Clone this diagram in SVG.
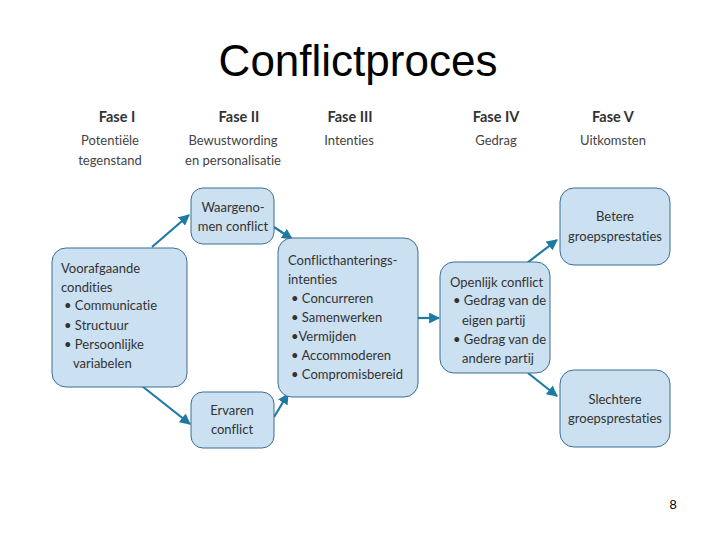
<svg xmlns="http://www.w3.org/2000/svg" width="720" height="540" viewBox="0 0 720 540">
<style>
.box{fill:#cbe0f0;stroke:#3a6f95;stroke-width:1}
.t{font-family:Lato,"Open Sans","Liberation Sans",sans-serif;font-size:13px;fill:#333;font-variant-ligatures:none;font-feature-settings:"liga" 0}
.c{text-anchor:middle}
.h{font-family:Lato,"Open Sans","Liberation Sans",sans-serif;font-size:14.5px;font-weight:bold;fill:#333;text-anchor:middle}
.s{font-family:Lato,"Open Sans","Liberation Sans",sans-serif;font-size:13px;fill:#444;text-anchor:middle;font-variant-ligatures:none;font-feature-settings:"liga" 0}
.a{stroke:#1d7aa3;stroke-width:2.2;fill:none;marker-end:url(#ah)}
</style>
<defs>
<marker id="ah" viewBox="0 0 10 10" refX="9" refY="5" markerWidth="5" markerHeight="5" orient="auto" markerUnits="strokeWidth">
<path d="M0,0 L10,5 L0,10 z" fill="#1d7aa3"/>
</marker>
</defs>
<rect width="720" height="540" fill="#fff"/>
<text x="358" y="76" font-family="Liberation Sans, Arial, sans-serif" font-size="44" text-anchor="middle" fill="#000">Conflictproces</text>
<g id="headers">
<text class="h" x="117" y="122">Fase I</text>
<text class="s" x="110" y="145">Potentiële</text>
<text class="s" x="110" y="165">tegenstand</text>
<text class="h" x="239" y="122">Fase II</text>
<text class="s" x="233" y="145">Bewustwording</text>
<text class="s" x="233" y="165">en personalisatie</text>
<text class="h" x="350" y="122">Fase III</text>
<text class="s" x="349" y="145">Intenties</text>
<text class="h" x="496" y="122">Fase IV</text>
<text class="s" x="496" y="145">Gedrag</text>
<text class="h" x="613" y="122">Fase V</text>
<text class="s" x="613" y="145">Uitkomsten</text>
</g>
<g id="connectors">
<line class="a" x1="152" y1="247" x2="189" y2="215"/>
<line class="a" x1="142" y1="386" x2="190" y2="424"/>
<line class="a" x1="274" y1="227" x2="292" y2="239"/>
<line class="a" x1="274" y1="417" x2="288" y2="394"/>
<line class="a" x1="418" y1="318" x2="439" y2="318"/>
<line class="a" x1="527" y1="263" x2="557" y2="240"/>
<line class="a" x1="528" y1="373" x2="557" y2="396"/>
</g>
<g id="voorafgaande">
<rect class="box" x="52" y="248" width="135" height="139" rx="14"/>
<text class="t" x="61" y="273">Voorafgaande</text>
<text class="t" x="61" y="292">condities</text>
<text class="t" x="64" y="310">• Communicatie</text>
<text class="t" x="64" y="330">• Structuur</text>
<text class="t" x="64" y="349">• Persoonlijke</text>
<text class="t" x="73" y="368">variabelen</text>
</g>
<g id="waargenomen">
<rect class="box" x="191" y="188" width="83" height="56" rx="12"/>
<text class="t c" x="233" y="212">Waargeno-</text>
<text class="t c" x="233" y="231">men conflict</text>
</g>
<g id="ervaren">
<rect class="box" x="191" y="392" width="83" height="56" rx="12"/>
<text class="t c" x="232" y="415">Ervaren</text>
<text class="t c" x="232" y="434">conflict</text>
</g>
<g id="intenties">
<rect class="box" x="278" y="238" width="140" height="159" rx="14"/>
<text class="t" x="288" y="265">Conflicthanterings-</text>
<text class="t" x="288" y="284">intenties</text>
<text class="t" x="291" y="303">• Concurreren</text>
<text class="t" x="291" y="322">• Samenwerken</text>
<text class="t" x="291" y="341">•Vermijden</text>
<text class="t" x="291" y="360">• Accommoderen</text>
<text class="t" x="291" y="379">• Compromisbereid</text>
</g>
<g id="openlijk">
<rect class="box" x="440" y="262" width="110" height="111" rx="14"/>
<text class="t" x="450" y="287">Openlijk conflict</text>
<text class="t" x="453" y="305">• Gedrag van de</text>
<text class="t" x="462" y="325">eigen partij</text>
<text class="t" x="453" y="344">• Gedrag van de</text>
<text class="t" x="462" y="363">andere partij</text>
</g>
<g id="betere">
<rect class="box" x="560" y="188" width="110" height="77" rx="14"/>
<text class="t c" x="615" y="221">Betere</text>
<text class="t c" x="615" y="241">groepsprestaties</text>
</g>
<g id="slechtere">
<rect class="box" x="560" y="370" width="110" height="77" rx="14"/>
<text class="t c" x="615" y="404">Slechtere</text>
<text class="t c" x="615" y="423">groepsprestaties</text>
</g>
<text x="673" y="509" font-family="Liberation Sans, Arial, sans-serif" font-size="13" text-anchor="middle" fill="#000">8</text>
</svg>
